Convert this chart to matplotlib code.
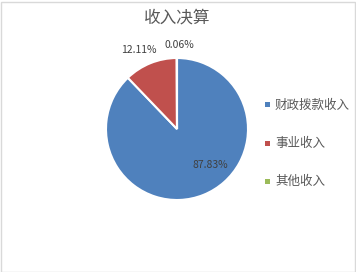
import matplotlib.pyplot as plt
from matplotlib.patches import Rectangle
import numpy as np

plt.rcParams['font.family'] = ['Noto Sans CJK SC', 'DejaVu Sans']

labels = ["财政拨款收入", "事业收入", "其他收入"]
values = [87.83, 12.11, 0.06]
colors = ["#4F81BD", "#C0504D", "#9BBB59"]
TXT = "#595959"

W, H = 356, 272
fig = plt.figure(figsize=(W / 100, H / 100), dpi=100)
fig.patches.append(Rectangle((0.5 / W, 0.5 / H), (W - 2) / W, (H - 2) / H, transform=fig.transFigure,
                             fill=False, edgecolor="#d9d9d9", lw=1))

# pie axes: center (177,129), radius ~71 px
r = 71
ax = fig.add_axes([(177 - r) / W, 1 - (129 + r) / H, 2 * r / W, 2 * r / H])
wedges, _ = ax.pie(values, colors=colors, startangle=90, counterclock=False,
                   wedgeprops=dict(edgecolor="white", linewidth=1.5))
ax.set_xlim(-1, 1)
ax.set_ylim(-1, 1)
ax.set_aspect("equal")

# data labels
ax.text(0.47, -0.51, "87.83%", ha="center", va="center", fontsize=7.5, color="#404040")
ax.text(-0.54, 1.11, "12.11%", ha="center", va="center", fontsize=7.5, color="#404040")
ax.text(0.03, 1.18, "0.06%", ha="center", va="center", fontsize=7.5, color="#404040")

fig.text(177 / W, 1 - 18 / H, "收入决算", ha="center", va="center", fontsize=12, color=TXT)

for i, (lab, c) in enumerate(zip(labels, colors)):
    y = 1 - (105 + 38 * i) / H
    fig.patches.append(Rectangle((265 / W, y - 2.5 / H), 5 / W, 5 / H, transform=fig.transFigure,
                                 facecolor=c, edgecolor="none"))
    fig.text(275 / W, y, lab, ha="left", va="center", fontsize=9, color=TXT)

fig.savefig("out.png", dpi=100, facecolor="white")
